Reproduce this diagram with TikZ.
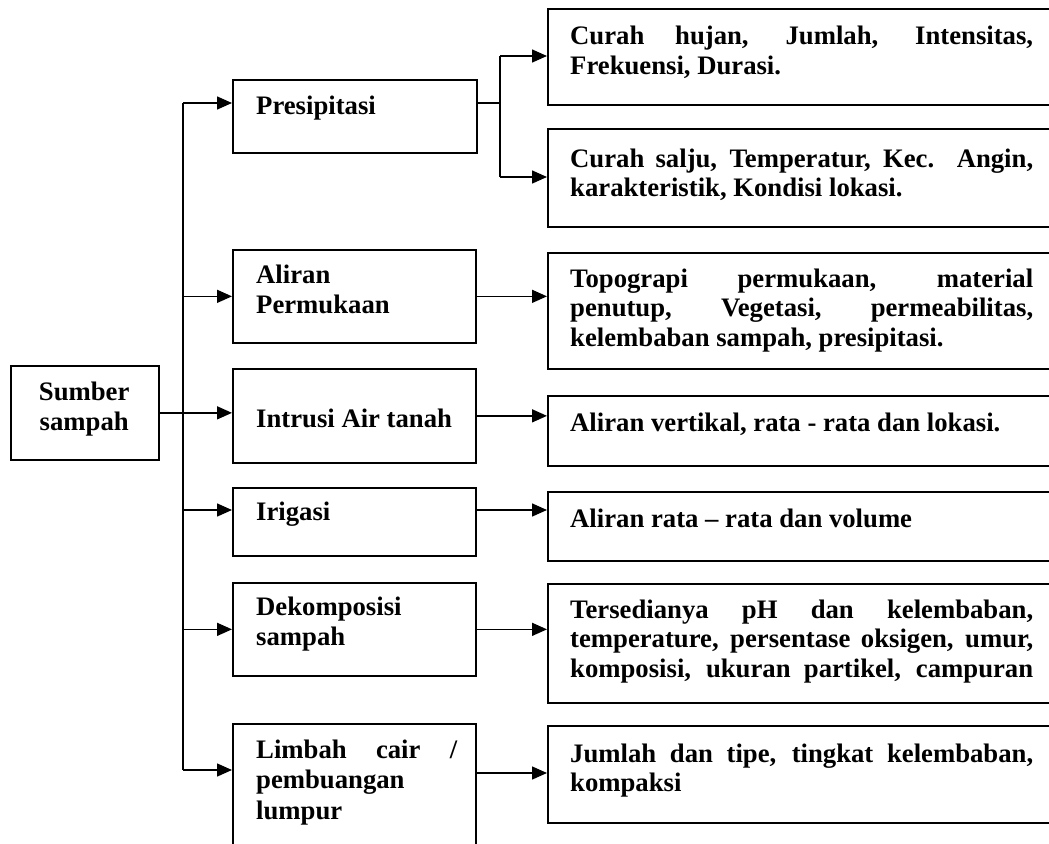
\documentclass[tikz,border=0pt]{standalone}
\usepackage{fontspec}
\setmainfont{Liberation Serif}
\usetikzlibrary{arrows.meta}
\newcommand\jr[1]{\hbox to 463pt{#1}}
\newcommand\jlft[1]{\hbox to 201pt{#1}}
\newcommand\pl[1]{\hbox{#1}}
\newcommand\rtext[1]{\vtop{\baselineskip=29.5pt #1}}
\newcommand\ltext[1]{\vtop{\baselineskip=30.5pt #1}}
\begin{document}
\begin{tikzpicture}[x=1pt,y=-1pt,
  box/.style={draw,line width=1.7pt,rectangle,inner sep=0pt,anchor=north west},
  txt/.style={inner sep=0pt,anchor=base west,font=\fontsize{26.7}{30}\selectfont\bfseries},
  conn/.style={line width=1.5pt},
  arr/.style={line width=1.5pt,-{Triangle[length=15pt,width=13pt]}}]
\useasboundingbox (0,0) rectangle (1049,843);
\clip (0,0) rectangle (1049,843);
\fill[white] (0,0) rectangle (1049,843);
% left column boxes
\node[box,minimum width=148pt,minimum height=94pt] (src) at (10,365) {};
\node[box,minimum width=244pt,minimum height=73pt] (pres) at (232,79) {};
\node[box,minimum width=243pt,minimum height=93pt] (alir) at (232,249) {};
\node[box,minimum width=243pt,minimum height=94pt] (intr) at (232,368) {};
\node[box,minimum width=243pt,minimum height=68pt] (irig) at (232,487) {};
\node[box,minimum width=243pt,minimum height=93pt] (deko) at (232,582) {};
\node[box,minimum width=243pt,minimum height=140pt] (limb) at (232,723) {};
% right column boxes (cut at the right edge)
\node[box,minimum width=540pt,minimum height=96pt] (r1) at (547,8) {};
\node[box,minimum width=540pt,minimum height=98pt] (r2) at (547,128) {};
\node[box,minimum width=540pt,minimum height=116pt] (r3) at (547,252) {};
\node[box,minimum width=540pt,minimum height=70pt] (r4) at (547,395) {};
\node[box,minimum width=540pt,minimum height=69pt] (r5) at (547,491) {};
\node[box,minimum width=540pt,minimum height=119pt] (r6) at (547,583) {};
\node[box,minimum width=540pt,minimum height=97pt] (r7) at (547,725) {};
% texts
\node[txt] (tsrc) at (10,400) {\vtop{\baselineskip=30pt\hbox to 148pt{\hss Sumber\hss}\hbox to 148pt{\hss sampah\hss}}};
\node[txt] (tpres) at (256,114) {Presipitasi};
\node[txt] (talir) at (256,283) {\ltext{\pl{Aliran}\pl{Permukaan}}};
\node[txt] (tintr) at (256,427) {Intrusi Air tanah};
\node[txt] (tirig) at (256,520) {Irigasi};
\node[txt] (tdeko) at (256,615) {\ltext{\pl{Dekomposisi}\pl{sampah}}};
\node[txt] (tlimb) at (256,758) {\ltext{\jlft{Limbah cair /}\pl{pembuangan}\pl{lumpur}}};
\node[txt] (tr1) at (570,45) {\rtext{\jr{Curah hujan, Jumlah, Intensitas,}\pl{Frekuensi, Durasi.}}};
\node[txt] (tr2) at (570,167) {\rtext{\jr{Curah salju, Temperatur, Kec. Angin,}\pl{karakteristik, Kondisi lokasi.}}};
\node[txt] (tr3) at (570,287) {\rtext{\jr{Topograpi permukaan, material}\jr{penutup, Vegetasi, permeabilitas,}\pl{kelembaban sampah, presipitasi.}}};
\node[txt] (tr4) at (570,431) {Aliran vertikal, rata - rata dan lokasi.};
\node[txt] (tr5) at (570,527) {Aliran rata -- rata dan volume};
\node[txt] (tr6) at (570,618) {\rtext{\jr{Tersedianya pH dan kelembaban,}\jr{temperature, persentase oksigen, umur,}\jr{komposisi, ukuran partikel, campuran}}};
\node[txt] (tr7) at (570,762) {\rtext{\jr{Jumlah dan tipe, tingkat kelembaban,}\pl{kompaksi}}};
% spine
\coordinate (sp1) at (183,103);
\coordinate (sp2) at (183,770);
\coordinate (spi) at (183,510);
\draw[conn] (sp1) -- (sp2);
\draw[arr] (src.east) -- (src.east -| intr.west);
\draw[arr] (sp1) -- (sp1 -| pres.west);
\draw[arr] (sp1 |- alir.west) -- (alir.west);
\draw[arr] (spi) -- (spi -| irig.west);
\draw[arr] (sp1 |- deko.west) -- (deko.west);
\draw[arr] (sp2) -- (sp2 -| limb.west);
% presipitasi branch
\coordinate (pb) at (500,103);
\coordinate (pbt) at (500,56);
\coordinate (pbb) at (500,177);
\draw[conn] (pres.east |- pb) -- (pb);
\draw[conn] (pbt) -- (pbb);
\draw[arr] (pbt) -- (pbt -| r1.west);
\draw[arr] (pbb) -- (pbb -| r2.west);
% right arrows
\coordinate (ai) at (475,510);
\coordinate (al) at (475,773);
\draw[arr] (alir.east) -- (alir.east -| r3.west);
\draw[arr] (intr.east) -- (intr.east -| r4.west);
\draw[arr] (ai) -- (ai -| r5.west);
\draw[arr] (deko.east) -- (deko.east -| r6.west);
\draw[arr] (al) -- (al -| r7.west);
\end{tikzpicture}
\end{document}
